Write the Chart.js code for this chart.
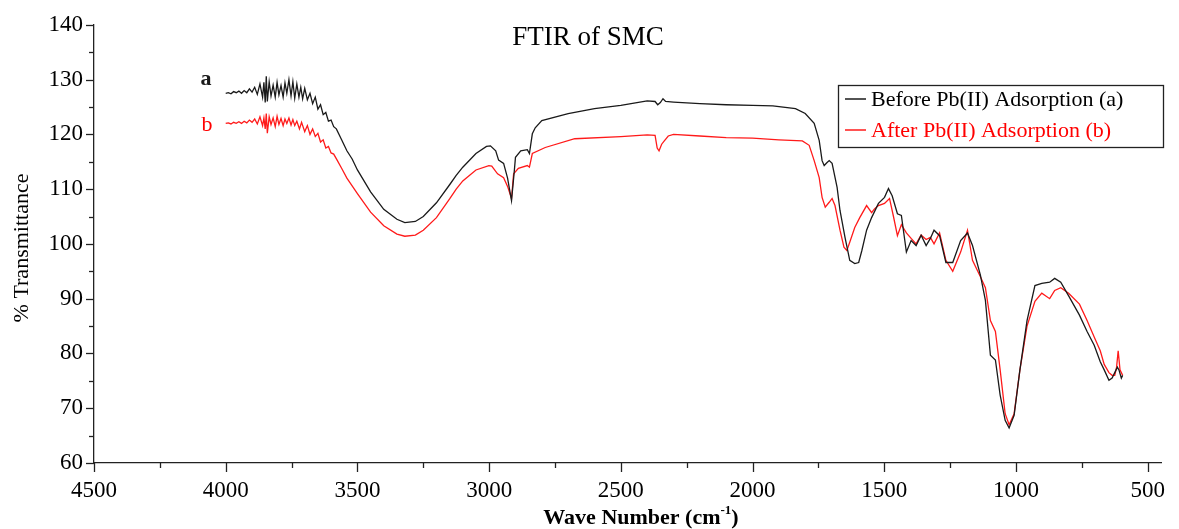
<!DOCTYPE html>
<html>
<head>
<meta charset="utf-8">
<script src="https://cdn.jsdelivr.net/npm/chart.js@4.4.1/dist/chart.umd.min.js"></script>
<style>
  html, body { margin: 0; padding: 0; background: #fff; }
  #wrap { width: 1179px; height: 529px; position: relative; }
</style>
</head>
<body>
<div id="wrap"><canvas id="ftir" width="1179" height="529"></canvas></div>
<script>
// FTIR spectra of SMC, before and after Pb(II) adsorption
const chartTitle = 'FTIR of SMC';
const xTitle = 'Wave Number (cm';
const xTitleSup = '-1';
const yTitle = '% Transmittance';
const labelA = 'Before Pb(II) Adsorption (a)';
const labelB = 'After Pb(II) Adsorption (b)';

const xTicks = [4500, 4000, 3500, 3000, 2500, 2000, 1500, 1000, 500];
const yTicks = [60, 70, 80, 90, 100, 110, 120, 130, 140];

// spectrum (a): before adsorption
const waveA = [4000,3990,3980,3970,3960,3950,3940,3930,3920,3910,3900,3890,3880,3870,3860,3855,3850,3846,3842,3835,3828,3820,3812,3805,3798,3790,3782,3775,3768,3760,3752,3745,3738,3730,3722,3715,3708,3700,3690,3680,3670,3660,3650,3640,3630,3620,3610,3600,3590,3580,3560,3540,3520,3500,3450,3400,3350,3320,3280,3250,3200,3150,3125,3100,3050,3010,2995,2975,2964,2945,2930,2915,2905,2900,2880,2855,2847,2836,2825,2800,2700,2600,2500,2400,2370,2360,2350,2340,2330,2300,2200,2100,2000,1923,1837,1800,1766,1747,1736,1728,1718,1709,1698,1679,1668,1649,1631,1612,1597,1585,1567,1548,1522,1499,1484,1470,1450,1435,1416,1398,1379,1360,1341,1325,1311,1290,1266,1240,1210,1184,1165,1135,1116,1097,1078,1060,1041,1026,1007,985,958,928,902,872,853,830,800,759,730,703,680,665,647,635,625,615,609,600,595];
const transA = [127.5,127.6,127.4,127.8,127.6,127.9,127.5,128.0,127.6,128.3,127.7,128.6,127.3,129.2,126.8,129.5,125.8,130.6,126.0,129.6,127.0,129.0,126.8,129.5,127.2,128.9,126.8,129.4,127.5,130.0,127.0,129.6,126.6,129.2,126.8,128.6,126.5,128.4,126.3,127.5,125.6,126.8,124.6,125.4,123.6,124.0,122.4,122.6,121.4,121.0,119.0,117.0,115.5,113.5,109.5,106.3,104.5,103.9,104.1,105.0,107.5,110.8,112.5,114.0,116.5,117.8,117.9,117.0,115.3,114.7,112.0,107.9,113.0,115.8,117.0,117.2,116.5,120.1,121.2,122.5,123.8,124.7,125.3,126.1,126.0,125.4,125.8,126.5,126.0,125.9,125.6,125.4,125.3,125.2,124.7,123.8,122.0,118.9,115.2,114.3,114.8,115.2,114.7,110.3,106.1,101.2,97.0,96.4,96.6,98.8,102.5,104.8,107.4,108.5,110.1,108.8,105.5,105.2,98.5,100.6,99.7,101.6,99.7,101.0,102.5,101.5,96.6,96.6,100.6,102.0,99.7,94.3,89.7,79.7,78.8,72.4,67.8,66.4,68.7,77.0,86.0,92.4,92.8,93.0,93.7,93.0,90.5,87.0,84.0,81.5,78.5,77.0,75.1,75.5,76.5,77.5,77.0,75.5,76.0];

// spectrum (b): after adsorption
const waveB = [4000,3990,3980,3970,3960,3950,3940,3930,3920,3910,3900,3890,3880,3870,3860,3855,3850,3846,3842,3835,3828,3820,3812,3805,3798,3790,3782,3775,3768,3760,3752,3745,3738,3730,3720,3712,3700,3690,3680,3670,3660,3650,3640,3630,3620,3610,3600,3590,3576,3560,3540,3520,3500,3450,3400,3350,3320,3280,3250,3200,3150,3125,3100,3050,3001,2990,2968,2945,2930,2915,2907,2889,2855,2847,2836,2787,2675,2500,2400,2370,2362,2355,2345,2335,2320,2300,2200,2100,2000,1900,1811,1785,1766,1747,1736,1724,1709,1698,1687,1668,1653,1642,1631,1612,1593,1567,1548,1537,1522,1499,1480,1465,1450,1435,1416,1398,1379,1360,1341,1325,1311,1290,1266,1240,1210,1184,1165,1135,1116,1097,1078,1060,1041,1026,1007,985,958,928,902,872,853,830,800,759,730,703,680,665,647,635,625,618,612,605,595];
const transB = [122.0,122.1,121.9,122.2,122.0,122.3,122.0,122.4,122.1,122.6,122.2,122.8,121.9,123.2,121.6,123.0,121.0,123.8,120.2,123.2,121.8,123.0,121.4,123.3,121.8,122.9,121.6,122.8,122.0,123.0,121.7,122.7,121.6,122.4,121.0,122.2,120.5,121.6,120.0,121.0,119.6,120.2,118.6,119.0,117.5,117.8,116.6,116.4,115.2,113.8,112.0,110.6,109.2,105.8,103.3,101.8,101.4,101.6,102.5,104.8,108.2,110.0,111.5,113.5,114.3,114.2,112.8,112.1,110.5,108.3,112.8,113.8,114.3,114.0,116.5,117.6,119.2,119.6,119.9,119.8,117.5,117.0,118.2,118.8,119.7,120.0,119.7,119.4,119.3,119.0,118.8,118.0,115.2,112.1,108.5,106.7,107.6,108.3,107.0,102.5,99.4,98.8,100.3,103.0,104.8,107.0,105.7,106.4,107.0,107.4,108.3,105.0,101.5,103.5,102.0,101.0,100.0,101.6,100.8,101.2,100.0,102.0,97.0,95.0,98.5,102.5,97.0,94.0,92.0,86.0,84.0,77.0,69.0,67.0,69.0,77.0,85.0,89.5,91.0,90.0,91.5,92.0,91.0,89.0,86.0,83.0,80.5,78.0,76.5,76.0,76.0,77.5,80.5,77.0,76.0];

const colorA = '#1a1a1a';
const colorB = '#ff1a1a';
const serif = '"Liberation Serif", "Times New Roman", serif';

function toPoints(xs, ys) {
  return xs.map((x, i) => ({ x: x, y: ys[i] }));
}

// axis ticks (major with labels, minor halfway), title, axis titles, curve tags and legend box
const decorPlugin = {
  id: 'decor',
  afterDraw(chart) {
    const ctx = chart.ctx;
    const xs = chart.scales.x, ys = chart.scales.y;
    const area = chart.chartArea;
    ctx.save();
    ctx.strokeStyle = '#222';
    ctx.lineWidth = 1.3;
    // x ticks
    for (let v = 4500; v >= 500; v -= 250) {
      const px = Math.round(xs.getPixelForValue(v)) + 0.5;
      const len = (v % 500 === 0) ? 9 : 5;
      ctx.beginPath();
      ctx.moveTo(px, area.bottom);
      ctx.lineTo(px, area.bottom + len);
      ctx.stroke();
    }
    // y ticks
    for (let v = 60; v <= 140; v += 5) {
      const py = Math.round(ys.getPixelForValue(v)) + 0.5;
      const len = (v % 10 === 0) ? 8 : 5;
      ctx.beginPath();
      ctx.moveTo(area.left, py);
      ctx.lineTo(area.left - len, py);
      ctx.stroke();
    }
    // chart title
    ctx.fillStyle = '#000';
    ctx.font = '27px ' + serif;
    ctx.textAlign = 'center';
    ctx.textBaseline = 'alphabetic';
    ctx.fillText(chartTitle, 588, 45);

    // x axis title with superscript
    ctx.font = 'bold 22px ' + serif;
    const w1 = ctx.measureText(xTitle).width;
    ctx.font = 'bold 13px ' + serif;
    const w2 = ctx.measureText(xTitleSup).width;
    ctx.font = 'bold 22px ' + serif;
    const w3 = ctx.measureText(')').width;
    const total = w1 + w2 + w3;
    let sx = 641 - total / 2;
    ctx.textAlign = 'left';
    ctx.fillText(xTitle, sx, 524);
    ctx.font = 'bold 13px ' + serif;
    ctx.fillText(xTitleSup, sx + w1, 514);
    ctx.font = 'bold 22px ' + serif;
    ctx.fillText(')', sx + w1 + w2, 524);

    // y axis title
    ctx.save();
    ctx.translate(28, 248);
    ctx.rotate(-Math.PI / 2);
    ctx.font = '22px ' + serif;
    ctx.textAlign = 'center';
    ctx.fillText(yTitle, 0, 0);
    ctx.restore();

    // curve tags
    ctx.font = 'bold 22px ' + serif;
    ctx.textAlign = 'center';
    ctx.fillStyle = colorA;
    ctx.fillText('a', 206, 85);
    ctx.font = '22px ' + serif;
    ctx.fillStyle = '#ff0000';
    ctx.fillText('b', 207, 131);

    // legend box
    const lx = 838.5, ly = 85.5, lw = 325, lh = 62;
    ctx.strokeStyle = '#222';
    ctx.lineWidth = 1.3;
    ctx.strokeRect(lx, ly, lw, lh);
    const ds = chart.data.datasets;
    const rows = [99, 130];
    ds.forEach((d, i) => {
      ctx.strokeStyle = d.borderColor;
      ctx.lineWidth = 1.5;
      ctx.beginPath();
      ctx.moveTo(845, rows[i]);
      ctx.lineTo(866, rows[i]);
      ctx.stroke();
      ctx.fillStyle = i === 0 ? '#000' : '#ff0000';
      ctx.font = '22px ' + serif;
      ctx.textAlign = 'left';
      ctx.textBaseline = 'middle';
      ctx.fillText(d.label, 871, rows[i] + 1);
    });
    ctx.restore();
  }
};

new Chart(document.getElementById('ftir'), {
  type: 'line',
  data: {
    datasets: [
      { label: labelA, data: toPoints(waveA, transA), borderColor: colorA, borderWidth: 1.3, pointRadius: 0, tension: 0, fill: false },
      { label: labelB, data: toPoints(waveB, transB), borderColor: colorB, borderWidth: 1.3, pointRadius: 0, tension: 0, fill: false }
    ]
  },
  options: {
    responsive: false,
    animation: false,
    devicePixelRatio: 1,
    layout: { padding: { top: 24, right: 6, left: 0, bottom: 0 } },
    plugins: { legend: { display: false }, title: { display: false }, tooltip: { enabled: false } },
    scales: {
      x: {
        type: 'linear',
        reverse: true,
        min: 447,
        max: 4500,
        afterBuildTicks(scale) { scale.ticks = xTicks.map(v => ({ value: v })); },
        afterFit(scale) { scale.height = 66; },
        grid: { display: false, drawTicks: false },
        border: { display: true, color: '#222', width: 1.3 },
        ticks: { color: '#000', font: { family: serif, size: 23 }, padding: 14, maxRotation: 0, autoSkip: false, callback: v => String(v) }
      },
      y: {
        type: 'linear',
        min: 60,
        max: 140,
        afterBuildTicks(scale) { scale.ticks = yTicks.map(v => ({ value: v })); },
        afterFit(scale) { scale.width = 94; },
        grid: { display: false, drawTicks: false },
        border: { display: true, color: '#222', width: 1.3 },
        ticks: { color: '#000', font: { family: serif, size: 23 }, padding: 11, callback: v => String(v) }
      }
    }
  },
  plugins: [decorPlugin]
});
</script>
</body>
</html>
